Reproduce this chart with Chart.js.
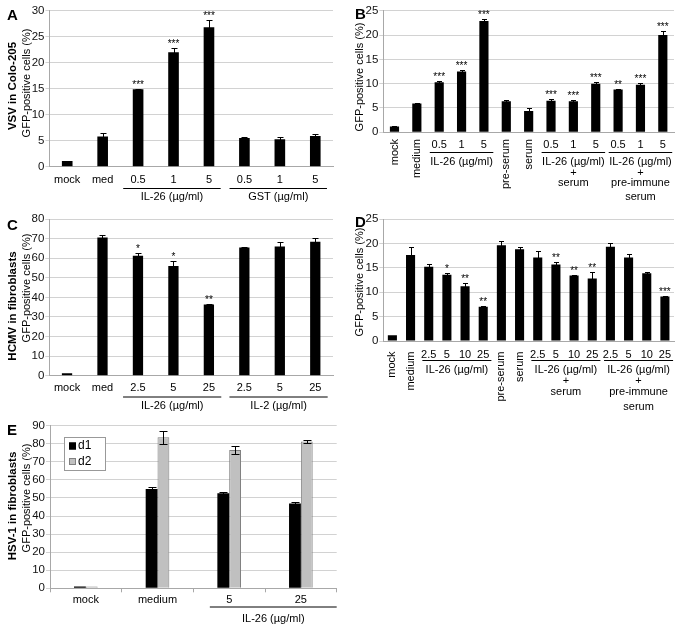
<!DOCTYPE html>
<html>
<head>
<meta charset="utf-8">
<script src="https://cdn.jsdelivr.net/npm/chart.js@4.4.1/dist/chart.umd.min.js"></script>
<style>
  body { margin: 0; background: #fff; }
  .panel { position: absolute; }
</style>
</head>
<body>
<div class="panel" style="left:0;top:0"><canvas id="chartA" width="340" height="205"></canvas></div>
<div class="panel" style="left:340px;top:0"><canvas id="chartB" width="343" height="205"></canvas></div>
<div class="panel" style="left:0;top:205px"><canvas id="chartC" width="340" height="215"></canvas></div>
<div class="panel" style="left:340px;top:205px"><canvas id="chartD" width="343" height="215"></canvas></div>
<div class="panel" style="left:0;top:415px"><canvas id="chartE" width="340" height="215"></canvas></div>
<script>
// ---- data ----
const catsA = ['mock', 'med', '0.5', '1', '5', '0.5', '1', '5'];
const valsA = [1.1, 5.8, 14.9, 22.0, 26.8, 5.5, 5.3, 5.9];
const errsA = [0, 0.6, 0.1, 0.9, 1.4, 0.3, 0.4, 0.4];
const starsA = ['', '', '***', '***', '***', '', '', ''];
const groupRangesA = [[2, 4], [5, 7]];
const groupTextA = [['IL-26 (µg/ml)'], ['GST (µg/ml)']];

const catsB = ['mock', 'medium', '0.5', '1', '5', 'pre-serum', 'serum', '0.5', '1', '5', '0.5', '1', '5'];
const valsB = [1.2, 5.9, 10.3, 12.5, 22.9, 6.4, 4.4, 6.5, 6.4, 10.0, 8.8, 9.8, 20.0];
const errsB = [0.1, 0.1, 0.2, 0.4, 0.3, 0.2, 0.5, 0.3, 0.2, 0.4, 0.2, 0.3, 0.8];
const starsB = ['', '', '***', '***', '***', '', '', '***', '***', '***', '**', '***', '***'];
const groupRangesB = [[2, 4], [7, 9], [10, 12]];
const groupTextB = [['IL-26 (µg/ml)'], ['IL-26 (µg/ml)', '+', 'serum'], ['IL-26 (µg/ml)', '+', 'pre-immune', 'serum']];

const catsC = ['mock', 'med', '2.5', '5', '25', '2.5', '5', '25'];
const valsC = [1.2, 70.5, 61.3, 56.0, 36.4, 65.5, 66.0, 68.4];
const errsC = [0, 1.3, 1.2, 2.7, 0.4, 0.4, 2.1, 2.1];
const starsC = ['', '', '*', '*', '**', '', '', ''];
const groupRangesC = [[2, 4], [5, 7]];
const groupTextC = [['IL-26 (µg/ml)'], ['IL-2 (µg/ml)']];

const catsD = ['mock', 'medium', '2.5', '5', '10', '25', 'pre-serum', 'serum', '2.5', '5', '10', '25', '2.5', '5', '10', '25'];
const valsD = [1.2, 17.6, 15.2, 13.6, 11.2, 7.0, 19.6, 18.8, 17.1, 15.7, 13.4, 12.8, 19.3, 17.1, 13.9, 9.1];
const errsD = [0, 1.7, 0.6, 0.3, 0.6, 0.2, 0.8, 0.5, 1.4, 0.5, 0.1, 1.3, 0.8, 0.7, 0.2, 0.1];
const starsD = ['', '', '', '*', '**', '**', '', '', '', '**', '**', '**', '', '', '', '***'];
const groupRangesD = [[2, 5], [8, 11], [12, 15]];
const groupTextD = [['IL-26 (µg/ml)'], ['IL-26 (µg/ml)', '+', 'serum'], ['IL-26 (µg/ml)', '+', 'pre-immune', 'serum']];

const catsE = ['mock', 'medium', '5', '25'];
const seriesE = ['d1', 'd2'];
const valsE1 = [1.0, 55.0, 52.6, 47.0];
const errsE1 = [0, 0.8, 0.9, 0.7];
const valsE2 = [1.0, 83.6, 76.6, 81.2];
const errsE2 = [0, 3.5, 2.3, 0.8];
const groupRangesE = [[2, 3]];
const groupTextE = [['IL-26 (µg/ml)']];

const FONT = "'Liberation Sans', Arial, sans-serif";

// draws error bars, stars, category labels, groups, panel letter, y titles, legend
const panelPlugin = {
  id: 'panel',
  afterDatasetsDraw(chart, args, opts) {
    const ctx = chart.ctx;
    const y = chart.scales.y;
    ctx.save();
    ctx.lineWidth = 1;
    ctx.strokeStyle = '#000';
    ctx.fillStyle = '#000';
    chart.data.datasets.forEach((ds, di) => {
      const meta = chart.getDatasetMeta(di);
      meta.data.forEach((bar, i) => {
        const v = ds.data[i];
        const e = ds.errors ? ds.errors[i] : 0;
        const x = Math.round(bar.x) + 0.5;
        const top = Math.round(y.getPixelForValue(v + e)) + 0.5;
        if (e) {
          const bot = Math.round(y.getPixelForValue(v - e)) + 0.5;
          const c = opts.capWidth / 2;
          ctx.beginPath();
          ctx.moveTo(x, bot); ctx.lineTo(x, top);
          ctx.moveTo(x - c, top); ctx.lineTo(x + c, top);
          ctx.moveTo(x - c, bot); ctx.lineTo(x + c, bot);
          ctx.stroke();
        }
        if (ds.stars && ds.stars[i]) {
          ctx.font = '10px ' + FONT;
          ctx.textAlign = 'center';
          ctx.textBaseline = 'alphabetic';
          ctx.fillText(ds.stars[i], bar.x, top - 1.5);
        }
      });
    });
    ctx.restore();
  },
  afterDraw(chart, args, opts) {
    const ctx = chart.ctx;
    const x = chart.scales.x;
    const area = chart.chartArea;
    const w = x.getPixelForValue(1) - x.getPixelForValue(0);
    ctx.save();
    ctx.fillStyle = '#000';
    ctx.strokeStyle = '#000';
    ctx.lineWidth = 1;

    // category labels
    ctx.font = '11px ' + FONT;
    chart.data.labels.forEach((lab, i) => {
      const px = x.getPixelForValue(i);
      if (opts.rotateWords && isNaN(Number(lab))) {
        ctx.save();
        ctx.translate(px, opts.rotTop);
        ctx.rotate(-Math.PI / 2);
        ctx.textAlign = 'right';
        ctx.textBaseline = 'middle';
        ctx.fillText(lab, 0, 0);
        ctx.restore();
      } else {
        ctx.textAlign = 'center';
        ctx.textBaseline = 'middle';
        ctx.fillText(lab, px, opts.labelY);
      }
    });

    // groups
    opts.groups.forEach((rng, gi) => {
      const x0 = x.getPixelForValue(rng[0]) - opts.padL * w;
      const x1 = Math.min(x.getPixelForValue(rng[1]) + opts.padR * w, area.right);
      ctx.beginPath();
      ctx.moveTo(x0, opts.lineY + 0.5);
      ctx.lineTo(x1, opts.lineY + 0.5);
      ctx.stroke();
      ctx.textAlign = 'center';
      ctx.textBaseline = 'middle';
      opts.groupText[gi].forEach((t, li) => {
        ctx.fillText(t, (x0 + x1) / 2, opts.textY[li]);
      });
    });

    // panel letter
    ctx.font = 'bold 15px ' + FONT;
    ctx.textAlign = 'left';
    ctx.textBaseline = 'alphabetic';
    ctx.fillText(opts.letter[0], opts.letter[1], opts.letter[2]);

    // y titles
    opts.titles.forEach(t => {
      ctx.save();
      ctx.translate(t.x, t.y);
      ctx.rotate(-Math.PI / 2);
      ctx.font = (t.bold ? 'bold 11.5px ' : '11px ') + FONT;
      ctx.textAlign = 'center';
      ctx.textBaseline = 'middle';
      ctx.fillText(t.text, 0, 0);
      ctx.restore();
    });

    // legend box (panel E)
    if (opts.legend) {
      const L = opts.legend;
      ctx.fillStyle = '#fff';
      ctx.strokeStyle = '#999';
      ctx.fillRect(L.x, L.y, L.w, L.h);
      ctx.strokeRect(L.x + 0.5, L.y + 0.5, L.w, L.h);
      chart.data.datasets.forEach((ds, i) => {
        const cy = L.y + 9 + i * 15.5;
        ctx.fillStyle = ds.backgroundColor;
        ctx.fillRect(L.x + 5, cy - 3.5, 7, 7);
        ctx.strokeStyle = ds.borderColor;
        ctx.strokeRect(L.x + 5.5, cy - 3, 6, 6);
        ctx.fillStyle = '#000';
        ctx.font = '12px ' + FONT;
        ctx.textAlign = 'left';
        ctx.textBaseline = 'middle';
        ctx.fillText(ds.label, L.x + 14, cy);
      });
    }
    ctx.restore();
  }
};

function makePanel(id, cfg) {
  return new Chart(document.getElementById(id), {
    type: 'bar',
    data: { labels: cfg.cats, datasets: cfg.datasets },
    options: {
      responsive: false,
      animation: false,
      layout: { padding: { left: 0, top: cfg.top, right: cfg.right, bottom: 0 } },
      plugins: {
        legend: { display: false },
        tooltip: { enabled: false },
        panel: cfg.panel
      },
      scales: {
        x: {
          ticks: { display: false },
          grid: cfg.xTicks
            ? { display: true, drawOnChartArea: false, drawTicks: true, tickLength: 4, color: '#a8a8a8', offset: true }
            : { display: false },
          border: { display: true, color: '#a8a8a8' },
          afterFit: s => { s.height = cfg.xHeight; }
        },
        y: {
          min: 0,
          max: cfg.max,
          ticks: { stepSize: cfg.step, font: { family: FONT, size: 11.5 }, color: '#111', padding: 1 },
          grid: { color: '#d2d2d2', tickLength: 4 },
          border: { display: true, color: '#a8a8a8' },
          afterFit: s => { s.width = cfg.yWidth; }
        }
      }
    },
    plugins: [panelPlugin]
  });
}

function blackSet(vals, errs, stars, pct) {
  return [{ data: vals, errors: errs, stars: stars, backgroundColor: '#000', borderWidth: 0,
            barPercentage: pct, categoryPercentage: 1 }];
}

makePanel('chartA', {
  cats: catsA, datasets: blackSet(valsA, errsA, starsA, 0.3),
  top: 10.7, right: 7, xHeight: 38.3, yWidth: 49.5, max: 30, step: 5,
  panel: {
    capWidth: 6, labelY: 180, lineY: 188, textY: [197], padL: 0.42, padR: 0.33,
    groups: groupRangesA, groupText: groupTextA, letter: ['A', 7, 20],
    titles: [{ text: 'VSV in Colo-205', bold: true, x: 12.5, y: 86 },
             { text: 'GFP-positive cells (%)', x: 26.5, y: 83 }]
  }
});

makePanel('chartB', {
  cats: catsB, datasets: blackSet(valsB, errsB, starsB, 0.41),
  top: 10.7, right: 9, xHeight: 72.7, yWidth: 43.3, max: 25, step: 5,
  panel: {
    capWidth: 5, labelY: 145, rotTop: 139, rotateWords: true, lineY: 152, textY: [162, 172.5, 182.5, 196.5],
    padL: 0.42, padR: 0.42, groups: groupRangesB, groupText: groupTextB, letter: ['B', 15, 19],
    titles: [{ text: 'GFP-positive cells (%)', x: 20, y: 77 }]
  }
});

makePanel('chartC', {
  cats: catsC, datasets: blackSet(valsC, errsC, starsC, 0.29),
  top: 14, right: 7, xHeight: 44.3, yWidth: 49.3, max: 80, step: 10,
  panel: {
    capWidth: 6, labelY: 183.3, lineY: 191.5, textY: [200.5], padL: 0.42, padR: 0.35,
    groups: groupRangesC, groupText: groupTextC, letter: ['C', 7, 25],
    titles: [{ text: 'HCMV in fibroblasts', bold: true, x: 12.5, y: 101 },
             { text: 'GFP-positive cells (%)', x: 26.5, y: 83 }]
  }
});

makePanel('chartD', {
  cats: catsD, datasets: blackSet(valsD, errsD, starsD, 0.5),
  top: 14, right: 9, xHeight: 79, yWidth: 43.3, max: 25, step: 5,
  panel: {
    capWidth: 5, labelY: 150, rotTop: 146.5, rotateWords: true, lineY: 155, textY: [165, 176, 186.7, 201.5],
    padL: 0.35, padR: 0.45, groups: groupRangesD, groupText: groupTextD, letter: ['D', 15, 22],
    titles: [{ text: 'GFP-positive cells (%)', x: 20, y: 77 }]
  }
});

makePanel('chartE', {
  cats: catsE,
  datasets: [
    { label: seriesE[0], data: valsE1, errors: errsE1, backgroundColor: '#000', borderColor: '#000',
      borderWidth: 0, barPercentage: 1, categoryPercentage: 0.33 },
    { label: seriesE[1], data: valsE2, errors: errsE2, backgroundColor: '#c0c0c0', borderColor: '#808080',
      borderWidth: 1, barPercentage: 1, categoryPercentage: 0.33 }
  ],
  top: 10.7, right: 3.3, xHeight: 41.7, yWidth: 50, max: 90, step: 10, xTicks: true,
  panel: {
    capWidth: 8, labelY: 185, lineY: 191.5, textY: [204], padL: 0.27, padR: 0.6,
    groups: groupRangesE, groupText: groupTextE, letter: ['E', 7, 20],
    titles: [{ text: 'HSV-1 in fibroblasts', bold: true, x: 12.5, y: 91 },
             { text: 'GFP-positive cells (%)', x: 26.5, y: 83 }],
    legend: { x: 64, y: 22, w: 41, h: 33 }
  }
});
</script>
</body>
</html>
